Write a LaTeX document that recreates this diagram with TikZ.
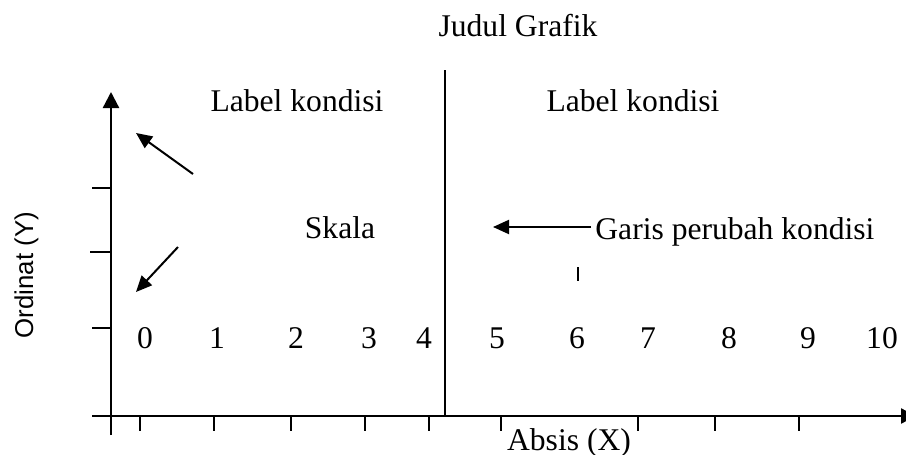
\documentclass[tikz,border=0pt]{standalone}
\usepackage{fontspec}
\setmainfont{Liberation Serif}
\newfontfamily\labelsans{Liberation Sans}
\usetikzlibrary{arrows.meta}

\tikzset{
  axisline/.style={line width=1.15pt, line cap=butt},
  tickline/.style={line width=1.1pt},
  pointer/.style={line width=1pt, -{Triangle[length=8pt,width=7pt]}},
  txt/.style={anchor=base, inner sep=0pt, font=\fontsize{15.8}{19}\selectfont},
}

\begin{document}
\begin{tikzpicture}[x=0.5pt, y=-0.5pt]
  \clip (0,0) rectangle (906,455);
  \fill[white] (0,0) rectangle (906,455);

  % axes
  \coordinate (ytop) at (111,92);
  \coordinate (ybot) at (111,435);
  \coordinate (xleft) at (92,416);
  \coordinate (xright) at (916,416);
  \draw[axisline, -{Triangle[length=8pt,width=8pt]}] (ybot) -- (ytop);
  \draw[axisline, -{Triangle[length=7.5pt,width=7.5pt]}] (xleft) -- (xright);

  % ticks on the ordinate
  \foreach \y/\x in {188/92, 252/90, 328/92}
    \draw[tickline] (\x,\y) -- (111,\y);

  % ticks on the abscissa
  \foreach \x in {140,214,291,365,429,501,638,715,799}
    \draw[tickline] (\x,416) -- (\x,431);

  % condition change line
  \coordinate (divtop) at (445,70);
  \coordinate (divbot) at (445,416);
  \draw[axisline] (divtop) -- (divbot);

  % small mark
  \coordinate (m1) at (578,267);
  \coordinate (m2) at (578,281);
  \draw[line width=1pt] (m1) -- (m2);

  % labels
  \node[txt] (title) at (518,36) {Judul Grafik};
  \node[txt] (lab1) at (297,112) {Label kondisi};
  \node[txt] (lab2) at (633,112) {Label kondisi};
  \node[txt] (skala) at (340,238) {Skala};
  \node[txt, anchor=base west] (garis) at (595,239) {Garis perubah kondisi};
  \node[txt] (absis) at (569,450) {Absis (X)};
  \node[anchor=base, inner sep=0pt, rotate=90,
        font=\labelsans\fontsize{12.9}{15}\selectfont] (ordinat) at (33,275) {Ordinat (Y)};

  % scale numbers
  \foreach \n/\x in {0/145, 1/217, 2/296, 3/369, 4/424, 5/497, 6/577, 7/648, 8/729, 9/808, 10/882}
    \node[txt] (num\n) at (\x,348) {\n};

  % pointers
  \coordinate (a1s) at (193,174);
  \coordinate (a1e) at (136,133);
  \coordinate (a2s) at (178,247);
  \coordinate (a2e) at (136,292);
  \coordinate (a3e) at (493,227);
  \draw[pointer] (a1s) -- (a1e);
  \draw[pointer] (a2s) -- (a2e);
  \draw[pointer] (garis.west |- a3e) ++(-4,0) coordinate (a3s) -- (a3e);
\end{tikzpicture}
\end{document}
